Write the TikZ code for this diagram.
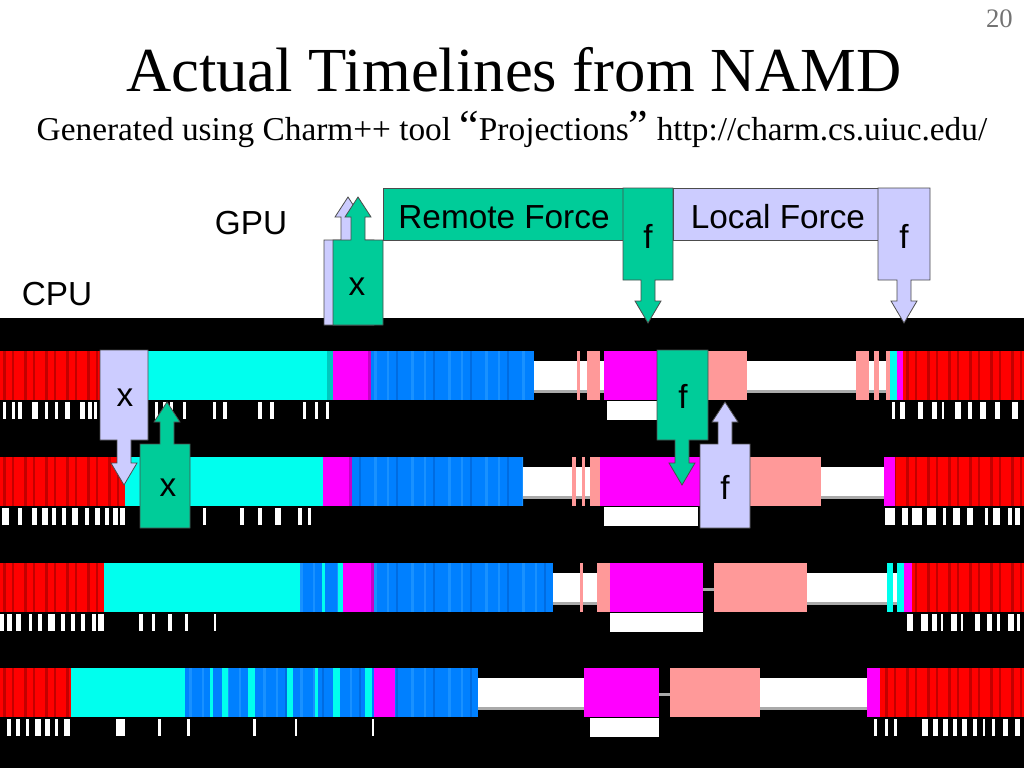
\documentclass[tikz,border=0pt]{standalone}
\usepackage{fontspec}
\setmainfont{Liberation Serif}
\newfontfamily\arialf{Liberation Sans}
\definecolor{gpugreen}{RGB}{0,204,153}
\definecolor{lav}{RGB}{204,204,255}
\definecolor{tcyan}{RGB}{0,255,238}
\definecolor{tcyanD}{RGB}{0,200,190}
\definecolor{tmag}{RGB}{255,0,255}
\definecolor{tmagD}{RGB}{200,0,200}
\definecolor{tpink}{RGB}{255,153,153}
\definecolor{tblue}{RGB}{0,128,255}
\definecolor{tblueL}{RGB}{25,145,255}
\definecolor{tblueD}{RGB}{0,108,225}
\definecolor{tred}{RGB}{255,0,0}
\definecolor{tredD}{RGB}{195,0,0}
\definecolor{tgray}{RGB}{170,170,170}
\tikzset{
  callout/.style={draw=black!70,line width=0.6pt},
  lbl/.style={inner sep=0pt,font=\arialf\fontsize{25}{30}\selectfont},
}
\newcommand\bigq[1]{{\fontsize{33}{30}\selectfont #1}}
\newcommand\tlseg[3]{\fill[#3] (#1,\rowt) rectangle (#2,\rowb);}
\newcommand\tlidle[2]{\fill[white] (#1,{\rowt+10}) rectangle (#2,{\rowt+39});
  \fill[tgray] (#1,{\rowt+39}) rectangle (#2,{\rowt+42});}
\newcommand\tlred[2]{\fill[tred] (#1,\rowt) rectangle (#2,\rowb);
  \begin{scope}\clip (#1,\rowt) rectangle (#2,\rowb);
  \foreach \q in {0,21,...,1030}{\fill[tredD] ({\q+3},\rowt) rectangle ({\q+5.5},\rowb);
    \fill[tredD] ({\q+12},\rowt) rectangle ({\q+14},\rowb);}
  \end{scope}}
\newcommand\tlblue[2]{\fill[tblue] (#1,\rowt) rectangle (#2,\rowb);
  \begin{scope}\clip (#1,\rowt) rectangle (#2,\rowb);
  \foreach \q in {0,37,...,1030}{\fill[tblueL] ({\q+4},\rowt) rectangle ({\q+7},\rowb);
    \fill[tblueL] ({\q+17},\rowt) rectangle ({\q+19},\rowb);
    \fill[tblueD] ({\q+26},\rowt) rectangle ({\q+27.5},\rowb);}
  \end{scope}}
\newcommand\tlunder[2]{\fill[white] (#1,{\rowb+1}) rectangle (#2,{\rowb+20});}
\newcommand\tlticks[1]{\foreach \a/\b in {#1}{\fill[white] (\a,{\rowb+2}) rectangle (\b,{\rowb+19});}}
\newcommand\upcall[7]{%
  \pgfmathsetmacro\ucl{#5-7}\pgfmathsetmacro\ucr{#5+7}%
  \pgfmathsetmacro\uhl{#5-13}\pgfmathsetmacro\uhr{#5+13}\pgfmathsetmacro\uhb{#6+20}%
  \draw[callout,fill=#7] (#1,#2) -- (\ucl,#2) -- (\ucl,\uhb) -- (\uhl,\uhb) -- (#5,#6)
    -- (\uhr,\uhb) -- (\ucr,\uhb) -- (\ucr,#2) -- (#3,#2) -- (#3,#4) -- (#1,#4) -- cycle;}
\newcommand\downcall[7]{%
  \pgfmathsetmacro\ucl{#5-7}\pgfmathsetmacro\ucr{#5+7}%
  \pgfmathsetmacro\uhl{#5-13}\pgfmathsetmacro\uhr{#5+13}\pgfmathsetmacro\uhb{#6-22}%
  \draw[callout,fill=#7] (#1,#2) -- (#3,#2) -- (#3,#4) -- (\ucr,#4) -- (\ucr,\uhb)
    -- (\uhr,\uhb) -- (#5,#6) -- (\uhl,\uhb) -- (\ucl,\uhb) -- (\ucl,#4) -- (#1,#4) -- cycle;}
\begin{document}
\begin{tikzpicture}[x=0.75pt,y=-0.75pt]
\useasboundingbox (0,0) rectangle (1024,768);
\fill[white] (0,0) rectangle (1024,768);
% titles
\node[anchor=base east,inner sep=0pt,text=black!55,font=\fontsize{20}{24}\selectfont] (pg) at (1013,27) {20};
\node[anchor=base,inner sep=0pt,font=\fontsize{47}{50}\selectfont] (title) at (514,91) {Actual Timelines from NAMD};
\node[anchor=base,inner sep=0pt,font=\fontsize{25}{30}\selectfont] (sub) at (512,140) {Generated using Charm++ tool \bigq{“}Projections\bigq{”} http://charm.cs.uiuc.edu/};
\node[lbl,anchor=base] (gpu) at (251,234) {GPU};
\node[lbl,anchor=base] (cpu) at (57,305) {CPU};
% black band
\fill[black] (0,318) rectangle (1024,768);
% GPU timeline
\upcall{324}{240}{374}{325}{348}{197}{lav}
\upcall{333}{240}{383}{325}{358}{197}{gpugreen}
\node[lbl] (gx) at (357,287) {x};
\draw[callout,fill=gpugreen] (383,188) rectangle (623,240);
\node[lbl,anchor=base] (rf) at (504,228) {Remote Force};
\downcall{623}{188}{673}{280}{648}{323}{gpugreen}
\node[lbl] (gf1) at (648,236) {f};
\draw[callout,fill=lav] (673,188) rectangle (878,240);
\node[lbl,anchor=base] (lf) at (778,228) {Local Force};
\downcall{878}{188}{930}{280}{904}{323}{lav}
\node[lbl] (gf2) at (904,236) {f};
% ---------- Row 1
\def\rowt{351}\def\rowb{400}
\tlred{0}{104}
\tlseg{100}{327}{tcyan}\tlseg{327}{333}{tcyanD}
\tlseg{333}{371}{tmag}\tlseg{368}{371}{tmagD}
\tlblue{371}{534}
\tlidle{534}{577}\tlseg{577}{580}{tpink}\tlidle{580}{587}\tlseg{587}{600}{tpink}\tlidle{600}{604}
\tlseg{604}{657}{tmag}\tlunder{607}{657}
\tlseg{708}{747}{tpink}\tlidle{747}{856}\tlseg{856}{869}{tpink}\tlidle{869}{874}
\tlseg{874}{879}{tpink}\tlidle{879}{886}\tlseg{886}{890}{tpink}\tlseg{890}{897}{tcyan}
\tlseg{897}{903}{tmag}\tlred{903}{1024}
\tlticks{3/6,12/15,18/22,32/38,45/48,55/58,65/70,80/85,88/92,94/97,155/158,163/166,170/173,183/186,213/216,223/227,258/262,270/274,303/306,315/318,326/329,892/895,900/905,918/923,932/937,942/944,955/961,968/972,980/986,995/1000,1012/1018}
% ---------- Row 2
\def\rowt{457}\def\rowb{506}
\tlred{0}{125}
\tlseg{125}{323}{tcyan}
\tlseg{323}{352}{tmag}\tlseg{349}{352}{tmagD}
\tlblue{352}{523}
\tlidle{523}{572}\tlseg{572}{576}{tpink}\tlidle{576}{582}\tlseg{582}{585}{tpink}\tlidle{585}{590}\tlseg{590}{600}{tpink}
\tlseg{600}{700}{tmag}\tlunder{604}{698}
\tlseg{750}{821}{tpink}\tlidle{821}{884}\tlseg{884}{895}{tmag}\tlred{895}{1024}
\tlticks{2/9,18/22,32/37,42/48,52/56,62/66,72/78,85/89,95/100,105/109,113/118,120/125,203/206,240/244,258/262,275/281,298/302,308/311,885/895,902/908,912/922,927/936,943/946,953/960,967/973,985/988,993/1000,1008/1012,1015/1020}
% ---------- Row 3
\def\rowt{563}\def\rowb{612}
\tlred{0}{104}
\tlseg{104}{300}{tcyan}
\tlblue{300}{343}\tlseg{322}{325}{tcyan}\tlseg{338}{343}{tcyan}
\tlseg{343}{374}{tmag}\tlseg{371}{374}{tmagD}
\tlblue{374}{553}
\tlidle{553}{597}\tlseg{580}{583}{tpink}\tlseg{597}{610}{tpink}
\tlseg{610}{703}{tmag}\tlunder{610}{703}
\fill[tgray] (703,{\rowt+25}) rectangle (714,{\rowt+28});
\tlseg{714}{807}{tpink}\tlidle{807}{887}\tlseg{887}{893}{tcyan}\tlidle{893}{897}
\tlseg{897}{904}{tcyan}\tlseg{904}{912}{tmag}\tlred{912}{1024}
\tlticks{0/4,7/12,16/21,29/32,38/42,48/55,61/65,71/75,81/85,92/96,98/104,139/143,152/155,168/172,185/188,214/216,907/913,921/928,932/937,941/943,951/957,961/963,975/980,987/992,997/1000,1008/1014,1017/1020}
% ---------- Row 4
\def\rowt{668}\def\rowb{717}
\tlred{0}{71}
\tlseg{71}{180}{tcyan}
\tlblue{180}{374}
\foreach \a/\b in {180/185,210/213,222/228,248/255,287/293,315/318,333/340,365/372}{\tlseg{\a}{\b}{tcyan}}
\tlseg{374}{395}{tmag}\tlblue{395}{478}
\tlidle{478}{584}\tlseg{584}{659}{tmag}\tlunder{590}{659}
\fill[tgray] (659,{\rowt+25}) rectangle (670,{\rowt+28});
\tlseg{670}{760}{tpink}\tlidle{760}{867}\tlseg{867}{880}{tmag}\tlred{880}{1024}
\tlticks{7/11,16/20,26/29,35/41,45/50,55/58,64/70,116/125,158/161,187/190,253/256,295/297,372/374,874/877,885/888,894/897,922/928,933/938,943/948,953/957,962/967,973/977,983/985,992/995,1003/1008,1015/1020}
% ---------- CPU callouts
\downcall{100}{350}{148}{440}{124}{485}{lav}
\node[lbl] (cx1) at (125,398) {x};
\upcall{140}{444}{190}{528}{167}{402}{gpugreen}
\node[lbl] (cx2) at (168,488) {x};
\downcall{657}{350}{708}{440}{682}{485}{gpugreen}
\node[lbl] (cf1) at (683,396) {f};
\upcall{700}{444}{750}{528}{725}{402}{lav}
\node[lbl] (cf2) at (725,487) {f};
\end{tikzpicture}
\end{document}
